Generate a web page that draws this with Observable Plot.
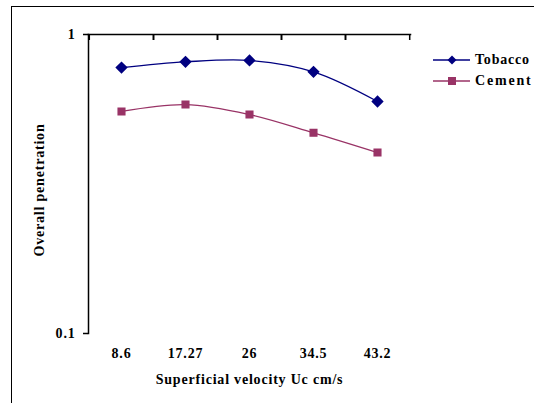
<!DOCTYPE html>
<html>
<head>
<meta charset="utf-8">
<script src="https://cdn.jsdelivr.net/npm/d3@7"></script>
<script src="https://cdn.jsdelivr.net/npm/@observablehq/plot@0.6"></script>
<style>
  html, body { margin: 0; padding: 0; background: #fff; }
  body { width: 534px; height: 403px; overflow: hidden; position: relative; font-family: "Liberation Serif", "Times New Roman", serif; }
  #border { position: absolute; left: 11px; top: 6px; width: 700px; height: 600px; border: 1.5px solid #000; box-sizing: border-box; }
  #chart { position: absolute; left: 0; top: 0; }
  #chart svg text { letter-spacing: 0.8px; }
  #legend { position: absolute; left: 433px; top: 49px; font-weight: bold; font-size: 14px; color: #000; }
  .item { display: flex; align-items: center; height: 21px; }
  .item svg { margin-right: 5px; }
</style>
</head>
<body>
<div id="border"></div>
<div id="chart"></div>
<div id="legend"></div>
<script>
const categories = ["8.6", "17.27", "26", "34.5", "43.2"];
const tobacco = [0.775, 0.81, 0.819, 0.75, 0.597];
const cement = [0.553, 0.583, 0.54, 0.469, 0.403];
const seriesNames = ["Tobacco", "Cement"];
const seriesColors = ["#000080", "#993366"];
const yTicks = [0.1, 1];

const rows = [];
categories.forEach((c, i) => {
  rows.push({cat: c, value: tobacco[i], series: "Tobacco"});
  rows.push({cat: c, value: cement[i], series: "Cement"});
});
const tob = rows.filter(d => d.series === "Tobacco");
const cem = rows.filter(d => d.series === "Cement");

const chart = Plot.plot({
  width: 534,
  height: 403,
  marginLeft: 88,
  marginRight: 124,
  marginTop: 34,
  marginBottom: 70,
  style: "font-family: 'Liberation Serif', 'Times New Roman', serif; font-weight: bold; font-size: 14px; background: transparent; color: #000;",
  x: {type: "point", domain: categories, padding: 0.5},
  y: {type: "log", domain: [0.1, 1]},
  marks: [
    Plot.frame({anchor: "left", stroke: "#000", strokeWidth: 1.5}),
    Plot.frame({anchor: "top", stroke: "#000", strokeWidth: 1.5}),
    Plot.axisY({ticks: yTicks, tickFormat: d => String(d), tickSize: 5, tickPadding: 8, label: null, strokeWidth: 1.5, fontSize: 14}),
    Plot.axisX({anchor: "top", tickSize: -5, text: null, label: null, dx: -32.2, strokeWidth: 1.5}),
    Plot.axisX({anchor: "top", tickSize: -5, text: null, label: null, dx: 32.2, strokeWidth: 1.5}),
    Plot.axisX({anchor: "bottom", tickSize: 0, tickPadding: 15, fontSize: 14, label: "Superficial velocity Uc cm/s", labelAnchor: "center", labelArrow: "none", labelOffset: 50}),
    Plot.text(["Overall penetration"], {frameAnchor: "left", textAnchor: "middle", rotate: -90, dx: -49, dy: 6, fontSize: 14, fontWeight: "bold"}),
    Plot.line(tob, {x: "cat", y: "value", stroke: seriesColors[0], strokeWidth: 1.3, curve: "catmull-rom"}),
    Plot.line(cem, {x: "cat", y: "value", stroke: seriesColors[1], strokeWidth: 1.3, curve: "catmull-rom"}),
    Plot.dot(tob, {x: "cat", y: "value", symbol: "diamond2", r: 4.6, fill: seriesColors[0], stroke: seriesColors[0]}),
    Plot.dot(cem, {x: "cat", y: "value", symbol: "square2", r: 4.2, fill: seriesColors[1], stroke: seriesColors[1]})
  ]
});
document.getElementById("chart").appendChild(chart);

const legend = document.getElementById("legend");
seriesNames.forEach((name, i) => {
  const item = document.createElement("div");
  item.className = "item";
  const sym = i === 0
    ? `<path d="M19,4.5 L23.5,9 L19,13.5 L14.5,9 Z" fill="${seriesColors[i]}"/>`
    : `<rect x="15" y="5" width="8" height="8" fill="${seriesColors[i]}"/>`;
  item.innerHTML = `<svg width="37" height="18"><line x1="0" y1="9" x2="37" y2="9" stroke="${seriesColors[i]}" stroke-width="1.3"/>${sym}</svg><span style="letter-spacing:${i === 0 ? 0.8 : 1.8}px">${name}</span>`;
  legend.appendChild(item);
});
</script>
</body>
</html>
